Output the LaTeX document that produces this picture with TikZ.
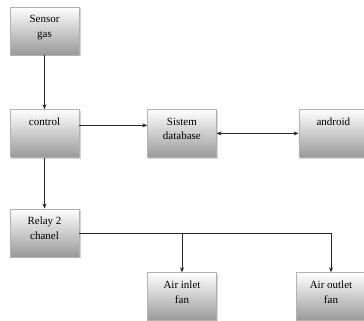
\documentclass[tikz,border=0pt]{standalone}
\usepackage{fontspec}
\setmainfont{Liberation Serif}
\usetikzlibrary{positioning,shadows,arrows.meta}

\newcommand{\boxtxt}[1]{\parbox[t][31pt][t]{64pt}{\centering\fontsize{11}{14.5}\selectfont #1}}

\begin{document}
\begin{tikzpicture}[x=1pt,y=-1pt,>={Stealth[length=5pt,width=4pt]},node distance=54pt and 68pt,
  blok/.style={draw=gray!60,top color=white,bottom color=gray!80,minimum width=69pt,minimum height=48pt,inner sep=0pt,drop shadow={shadow xshift=1.5pt,shadow yshift=-1.5pt,opacity=0.35}},
  line/.style={draw=black!85,line width=0.6pt}]
\useasboundingbox (0,0) rectangle (364,321);
\node[blok] (sensor) at (44.5,31) {\boxtxt{Sensor\\gas}};
\node[blok,below=of sensor] (ctrl) {\boxtxt{control}};
\node[blok,right=of ctrl] (sis) {\boxtxt{Sistem\\database}};
\node[blok,right=82pt of sis] (andro) {\boxtxt{android}};
\node[blok,below=51pt of ctrl] (relay) {\boxtxt{Relay 2\\chanel}};
\node[blok] (inlet) at (182,296.5) {\boxtxt{Air inlet\\fan}};
\node[blok] (outlet) at (331,296.5) {\boxtxt{Air outlet\\fan}};
\draw[line,->] (sensor) -- (ctrl);
\draw[line,->] ([yshift=8pt]ctrl.east) -- ([yshift=8pt]ctrl.east -| sis.west);
\draw[line,<->] (sis) -- (andro);
\draw[line,->] (ctrl) -- (relay);
\draw[line] (relay.east) -- (relay.east -| outlet.north) coordinate (kanan);
\draw[line,->] (relay.east -| inlet.north) -- (inlet.north);
\draw[line,->] (kanan) -- (outlet.north);
\end{tikzpicture}
\end{document}
